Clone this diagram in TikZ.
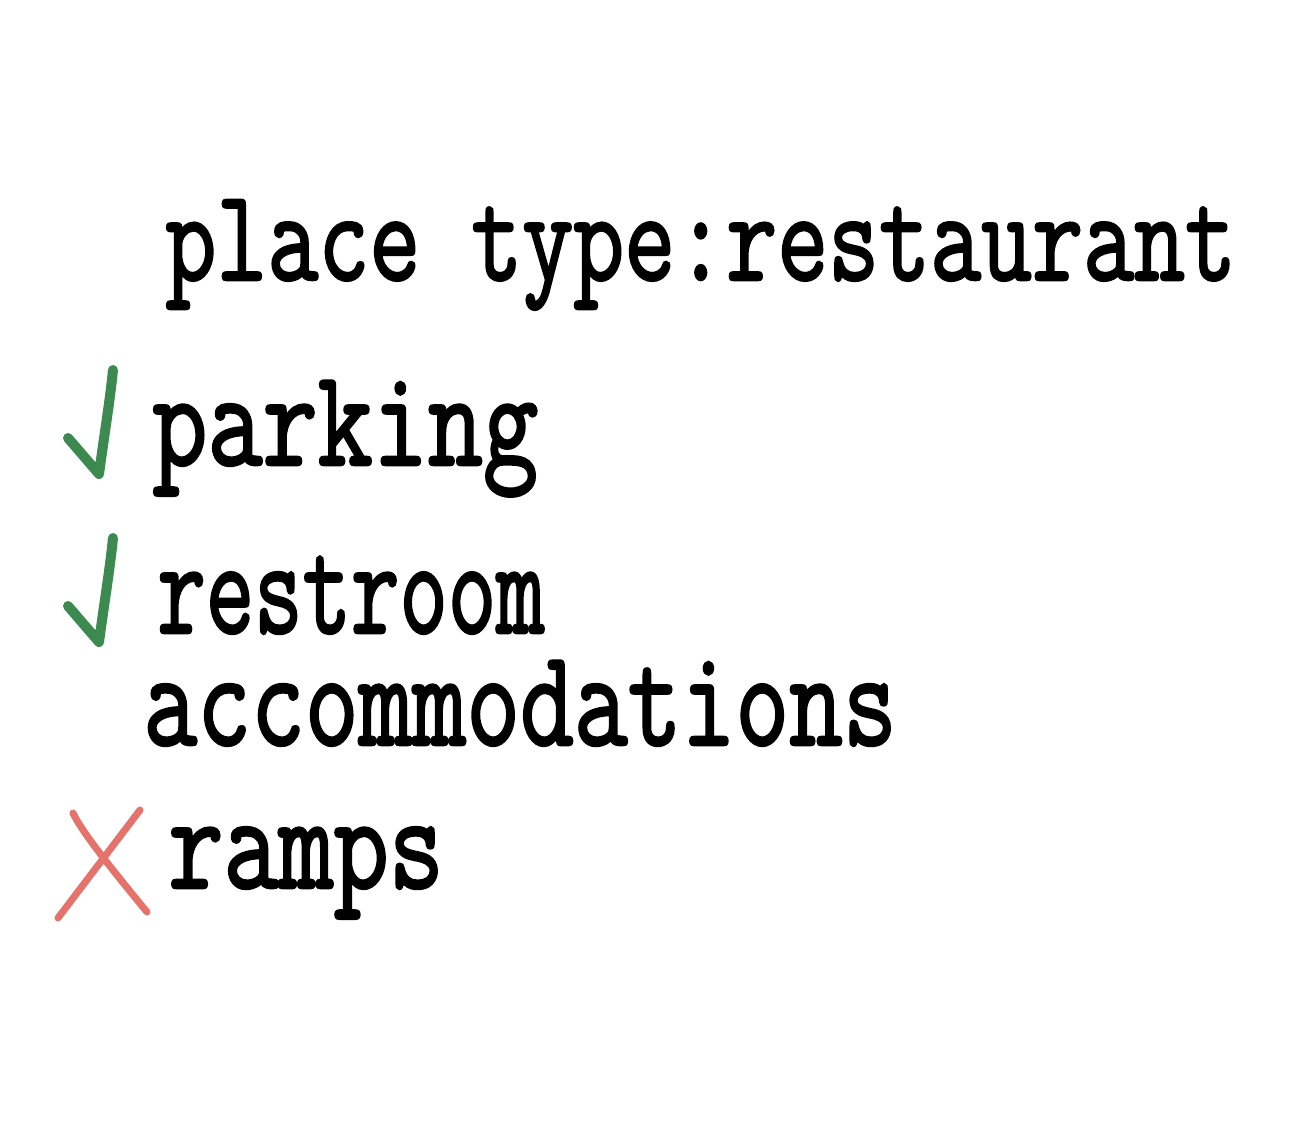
\documentclass[tikz,border=0pt]{standalone}
\usepackage{fontspec}
\newfontfamily\handfont{Latin Modern Mono}[FakeBold=2]
\usepackage{graphicx}

\definecolor{okgreen}{HTML}{3C8A50}
\definecolor{nored}{HTML}{E5736C}

\tikzset{
  entry/.style={anchor=base west, inner sep=0pt, font=\handfont\fontsize{50}{50}\selectfont},
  mark ok/.style={okgreen, line width=5pt, line cap=round, line join=round},
  mark no/.style={nored, line width=3.5pt, line cap=round}
}

\begin{document}
\begin{tikzpicture}[x=0.5pt, y=-0.5pt]

  \newcommand\Up{1.38};

  \useasboundingbox[fill=white] (0,0) rectangle (1296,1128);

  \node[entry] (title) at (165,280) {\scalebox{0.99}[1.31]{place type:restaurant}};

  \node[entry] (parking)  at (152,465) {\scalebox{1.07}[\Up]{parking}};
  \node[entry] (restroom) at (157,633) {\scalebox{0.94}[\Up]{restroom}};
  \node[entry] (accom)    at (143,745) {\scalebox{1.045}[\Up]{accommodations}};
  \node[entry] (ramps)    at (168,888) {\scalebox{1.07}[\Up]{ramps}};

%  checks and cross
  \draw[mark ok] (68,438) -- (99,474) .. controls (105,430) and (110,400) .. (113,370);
  \draw[mark ok] (68,606) -- (99,642) .. controls (105,598) and (110,568) .. (113,538);

  \draw[mark no] (73,813) .. controls (80,828) and (100,855) .. (147,912);
  \draw[mark no] (140,810) -- (58,918);

\end{tikzpicture}
\end{document}
